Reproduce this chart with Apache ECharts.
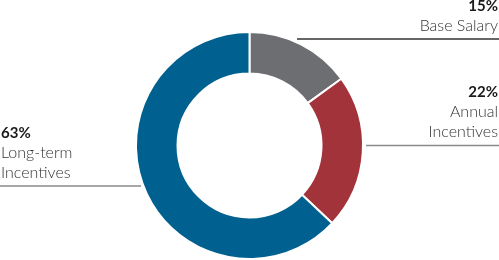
<!DOCTYPE html>
<html>
<head>
<meta charset="utf-8">
<script src="https://cdn.jsdelivr.net/npm/echarts@6/dist/echarts.min.js"></script>
<style>
html,body{margin:0;padding:0;background:#fff;}
#chart{width:499px;height:260px;}
</style>
</head>
<body>
<div id="chart"></div>
<script>
var categories = ['Base Salary', 'Annual\nIncentives', 'Long-term\nIncentives'];
var values = [15, 22, 63];
var colors = ['#6D6E71', '#A3333A', '#00608F'];
var lineColors = ['#333333', '#8a8a8a', '#8a8a8a'];

var chart = echarts.init(document.getElementById('chart'));

// label anchors: [x, y, align, lineStartX]
var anchors = [
  {x: 498, y: 36, align: 'right', line: [[297, 39], [499, 39]]},
  {x: 498, y: 142, align: 'right', line: [[366, 145.5], [499, 145.5]]},
  {x: 1, y: 183, align: 'left', line: [[0, 186], [141, 186]]}
];

var data = categories.map(function (c, i) {
  return {
    name: c,
    value: values[i],
    itemStyle: {color: colors[i]},
    label: {align: anchors[i].align},
    labelLine: {lineStyle: {color: lineColors[i], width: 1.5}}
  };
});

chart.setOption({
  animation: false,
  series: [{
    type: 'pie',
    silent: true,
    center: [249.5, 145.5],
    radius: [72, 113.5],
    startAngle: 90,
    clockwise: true,
    itemStyle: {borderColor: '#fff', borderWidth: 2},
    label: {
      show: true,
      position: 'outside',
      formatter: function (p) {
        var lines = p.name.split('\n').map(function (l) { return '{b|' + l + '}'; });
        return '{a|' + p.value + '%}\n' + lines.join('\n');
      },
      rich: {
        a: {fontFamily: 'Lato', fontWeight: 'bold', fontSize: 15, color: '#1a1a1a', lineHeight: 20},
        b: {fontFamily: 'Lato', fontWeight: 300, fontSize: 16, color: '#333333', lineHeight: 20}
      }
    },
    labelLine: {show: true, smooth: false},
    labelLayout: function (p) {
      var a = anchors[p.dataIndex];
      return {
        x: a.x,
        y: a.y,
        align: a.align,
        verticalAlign: 'bottom',
        labelLinePoints: a.line
      };
    },
    data: data
  }]
});
</script>
</body>
</html>
